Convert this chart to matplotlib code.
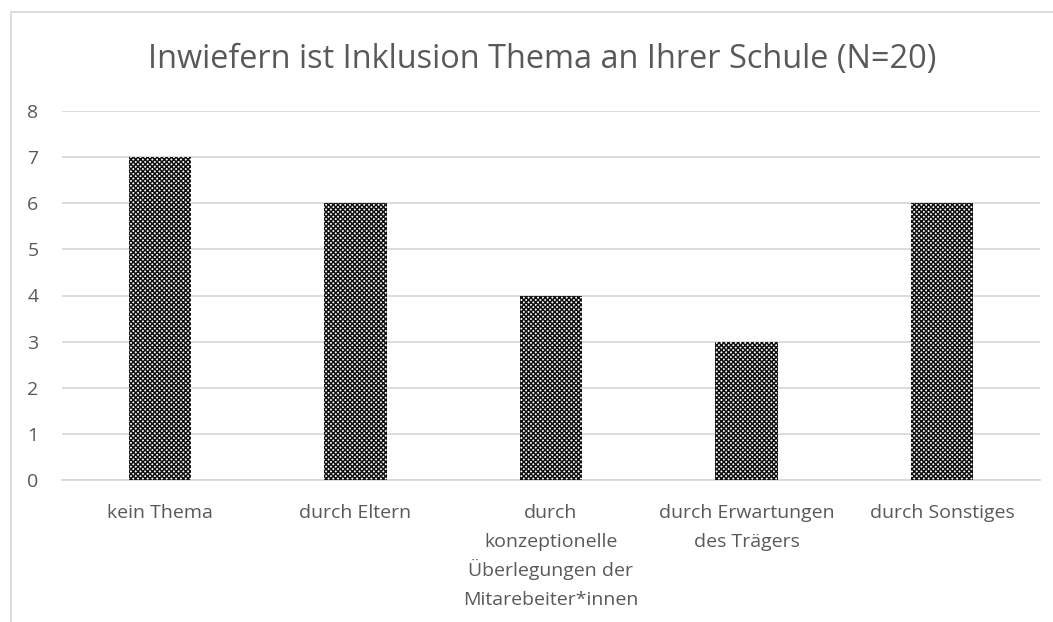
import matplotlib
matplotlib.use("Agg")
import matplotlib.pyplot as plt
from matplotlib.patches import Rectangle
from matplotlib.transforms import blended_transform_factory, offset_copy

categories = ["kein Thema", "durch Eltern",
              "durch\nkonzeptionelle\nÜberlegungen der\nMitarebeiter*innen",
              "durch Erwartungen\ndes Trägers", "durch Sonstiges"]
values = [7, 6, 4, 3, 6]
yticks = [0, 1, 2, 3, 4, 5, 6, 7, 8]
title = "Inwiefern ist Inklusion Thema an Ihrer Schule (N=20)"

plt.rcParams['font.family'] = ['Open Sans', 'DejaVu Sans']
plt.rcParams['hatch.linewidth'] = 1.1
W, H = 1053, 622
fig = plt.figure(figsize=(W/100, H/100), dpi=100)
fig.patch.set_facecolor('white')
txt_color = '#595959'

# chart border
fig.add_artist(Rectangle((11/W, -0.1), 1.2, 1 - 12/H + 0.1, transform=fig.transFigure,
                         fill=False, edgecolor='#d9d9d9', linewidth=1.3))

ax = fig.add_axes([62/W, 1 - 480/H, (1040-62)/W, (480-111)/H])
x = list(range(len(categories)))
ax.bar(x, values, width=0.32, color='white', edgecolor='#111111', hatch='xxxxxxx',
       linewidth=0, zorder=3)
ax.set_xlim(-0.5, len(categories) - 0.5)
ax.set_ylim(0, 8)
ax.set_yticks(yticks)
ax.set_yticklabels([str(t) for t in yticks])
ax.set_xticks(x)
ax.set_xticklabels([])
ax.yaxis.grid(True, color='#d9d9d9', linewidth=1.3, zorder=0)
ax.set_axisbelow(True)
for s in ['top', 'right', 'left']:
    ax.spines[s].set_visible(False)
ax.spines['bottom'].set_color('#d9d9d9')
ax.spines['bottom'].set_linewidth(1.3)
ax.tick_params(axis='both', length=0, colors=txt_color, labelsize=14)
ax.tick_params(axis='y', pad=25)
for lbl in ax.get_yticklabels():
    lbl.set_horizontalalignment('left')
ax.set_facecolor('none')

# category labels, line by line with fixed pitch
trans = blended_transform_factory(ax.transData, ax.transAxes)
for xi, cat in zip(x, categories):
    for j, line in enumerate(cat.split("\n")):
        t = offset_copy(trans, fig=fig, x=0, y=-(38 + 29 * j), units='dots')
        ax.text(xi, 0, line, transform=t, ha='center', va='baseline',
                fontsize=14, color=txt_color, clip_on=False)

fig.text(542/W, 1 - 68/H, title, ha='center', va='baseline', fontsize=23.4, color=txt_color)

fig.savefig("out.png", dpi=100)
